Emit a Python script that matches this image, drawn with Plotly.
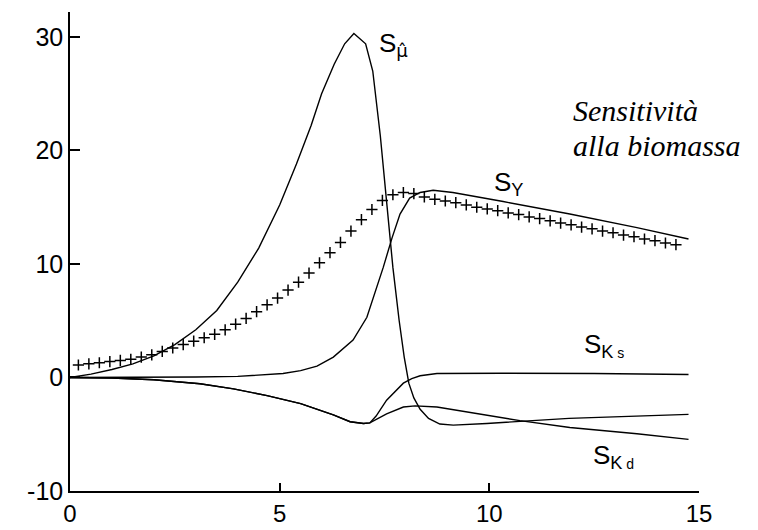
import plotly.graph_objects as go

# --- sensitivity curves (time on x) ---
mu_t = [0, 0.5, 1.0, 1.5, 2.0, 2.5, 3.0, 3.5, 4.0, 4.5, 5.0, 5.4, 5.75, 6.0, 6.3, 6.55,
        6.77, 7.05, 7.22, 7.3, 7.4, 7.55, 7.7, 7.85, 7.97, 8.08, 8.2, 8.35, 8.55, 8.82,
        9.14, 9.94, 10.7, 11.9, 13.5, 14.75]
mu_s = [0, 0.3, 0.7, 1.2, 1.9, 2.9, 4.2, 5.9, 8.4, 11.4, 15.2, 18.8, 22.2, 25.0, 27.6, 29.4,
        30.3, 29.4, 27.0, 24.5, 21.3, 15.5, 9.7, 5.0, 1.8, -0.5, -1.8, -2.8, -3.6, -4.1,
        -4.2, -4.05, -3.9, -3.6, -3.4, -3.25]

y_t = [0, 1, 2, 3, 4, 4.5, 5.08, 5.5, 5.89, 6.28, 6.75, 7.08, 7.32, 7.47, 7.68, 7.87,
       8.1, 8.35, 8.66, 9.13, 10.33, 11.92, 13.52, 14.75]
y_s = [0, 0, 0, 0.05, 0.1, 0.2, 0.35, 0.6, 1.0, 1.8, 3.3, 5.3, 7.9, 9.7, 12.3, 14.4,
       15.8, 16.3, 16.5, 16.3, 15.5, 14.4, 13.2, 12.2]

ks_t = [0, 1, 2, 2.5, 3.1, 3.9, 4.7, 5.5, 6.28, 6.68, 7.0, 7.15, 7.3, 7.55, 7.95, 8.15,
        8.35, 8.75, 10.3, 12.5, 14.75]
ks_s = [0, -0.05, -0.2, -0.35, -0.55, -1.0, -1.6, -2.3, -3.3, -3.9, -4.05, -4.0, -3.4,
        -2.0, -0.5, -0.1, 0.15, 0.35, 0.38, 0.35, 0.27]

kd_t = [0, 1, 2, 2.5, 3.1, 3.9, 4.7, 5.5, 6.28, 6.68, 7.0, 7.15, 7.3, 7.55, 7.95, 8.23,
        8.75, 9.54, 10.73, 11.92, 13.52, 14.75]
kd_s = [0, -0.05, -0.2, -0.35, -0.55, -1.0, -1.6, -2.3, -3.3, -3.9, -4.05, -4.0, -3.7,
        -3.2, -2.6, -2.5, -2.6, -3.1, -3.8, -4.4, -4.95, -5.45]

# --- biomass sensitivity sampled points (crosses) ---
cross_t = [0.20, 0.45, 0.70, 0.95, 1.20, 1.45, 1.70, 1.95, 2.20, 2.45, 2.70, 2.95, 3.20,
           3.45, 3.70, 3.95, 4.20, 4.45, 4.70, 4.95, 5.20, 5.45, 5.70, 5.95, 6.20, 6.45,
           6.70, 6.95, 7.20, 7.45, 7.70, 7.95, 8.20, 8.45, 8.70, 8.95, 9.20, 9.45, 9.70,
           9.95, 10.20, 10.45, 10.70, 10.95, 11.20, 11.45, 11.70, 11.95, 12.20, 12.45,
           12.70, 12.95, 13.20, 13.45, 13.70, 13.95, 14.20, 14.45]
cross_s = [1.1, 1.2, 1.3, 1.4, 1.5, 1.6, 1.8, 2.0, 2.3, 2.6, 2.9, 3.2, 3.5,
           3.8, 4.2, 4.7, 5.2, 5.8, 6.4, 7.0, 7.7, 8.4, 9.2, 10.1, 11.0, 11.9,
           12.9, 13.9, 14.8, 15.6, 16.1, 16.3, 16.2, 15.9, 15.7, 15.55, 15.4, 15.2, 15.0,
           14.85, 14.7, 14.5, 14.35, 14.15, 14.0, 13.8, 13.6, 13.45, 13.25, 13.1,
           12.9, 12.75, 12.55, 12.4, 12.2, 12.05, 11.85, 11.7]

x_ticks = [0, 5, 10, 15]
y_ticks = [-10, 0, 10, 20, 30]

line_style = dict(color="black", width=1.4)

fig = go.Figure()
for t, s in [(mu_t, mu_s), (y_t, y_s), (ks_t, ks_s), (kd_t, kd_s)]:
    fig.add_trace(go.Scatter(x=t, y=s, mode="lines", line=line_style,
                             hoverinfo="skip", showlegend=False))
fig.add_trace(go.Scatter(x=cross_t, y=cross_s, mode="markers",
                         marker=dict(symbol="cross-thin", size=8,
                                     line=dict(color="black", width=1.5)),
                         hoverinfo="skip", showlegend=False))

sans = "Liberation Sans, Arial, sans-serif"
serif = "Liberation Serif, Times New Roman, serif"

labels = [
    (7.32, 29.3, "S<sub><span style='font-family:DejaVu Sans'>μ̂</span></sub>"),
    (10.06, 17.1, "S<sub>Y</sub>"),
    (12.2, 2.8, "S<sub>K<span style='font-size:14px'> s</span></sub>"),
    (12.42, -7.0, "S<sub>K<span style='font-size:14px'> d</span></sub>"),
]
annotations = [dict(x=x, y=y, text=t, showarrow=False, xanchor="left", yanchor="middle",
                    font=dict(family=sans, size=26, color="black"))
               for x, y, t in labels]
annotations += [
    dict(x=11.95, y=23.5, text="<i>Sensitività</i>", showarrow=False, xanchor="left",
         yanchor="middle", font=dict(family=serif, size=30, color="black")),
    dict(x=11.95, y=20.4, text="<i>alla biomassa</i>", showarrow=False, xanchor="left",
         yanchor="middle", font=dict(family=serif, size=30, color="black")),
]

fig.update_layout(
    width=758, height=530,
    margin=dict(l=70, r=59, t=12, b=39),
    paper_bgcolor="white", plot_bgcolor="white",
    annotations=annotations,
    xaxis=dict(range=[0, 15], tickvals=x_ticks, ticktext=[str(v) for v in x_ticks],
               showline=True, linecolor="black", linewidth=1.5, ticks="inside",
               ticklen=8, tickwidth=1.5, tickcolor="black", showgrid=False,
               zeroline=False, ticklabelstandoff=0, automargin=False,
               tickfont=dict(family=sans, size=24, color="black")),
    yaxis=dict(range=[-10, 32.2], tickvals=y_ticks, ticktext=[str(v) for v in y_ticks],
               showline=True, linecolor="black", linewidth=1.5, ticks="inside",
               ticklen=10, tickwidth=1.5, tickcolor="black", showgrid=False,
               zeroline=False, automargin=False,
               tickfont=dict(family=sans, size=25, color="black")),
)

fig.write_html("out.html")
